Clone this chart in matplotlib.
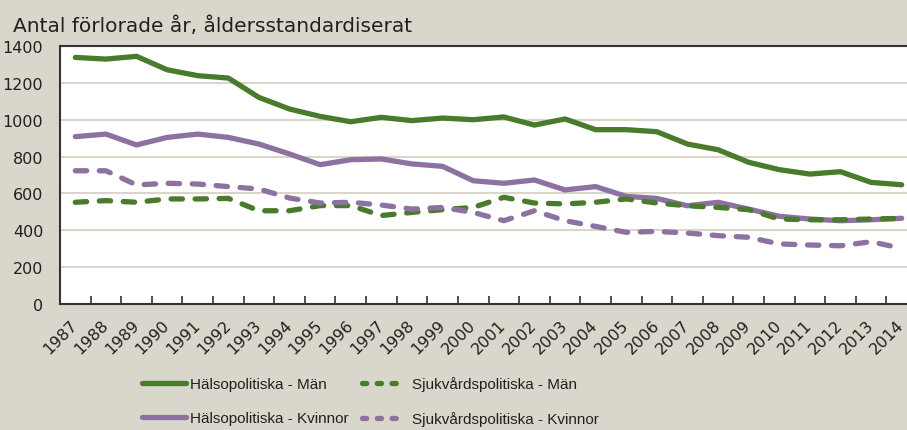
import numpy as np
import matplotlib
matplotlib.use("Agg")
import matplotlib.pyplot as plt
from matplotlib.ticker import FixedLocator
from matplotlib.lines import Line2D

# data
years = [str(y) for y in range(1987, 2015)]
halso_man = [1338, 1329, 1344, 1271, 1239, 1226, 1121, 1058, 1018, 989, 1013, 995, 1009,
             1000, 1015, 971, 1004, 946, 946, 935, 868, 837, 769, 729, 705, 718, 660, 647]
halso_kvinnor = [908, 922, 863, 904, 922, 904, 868, 814, 756, 783, 787, 760, 747,
                 669, 655, 673, 619, 637, 584, 573, 533, 552, 515, 476, 461, 452, 457, 465]
sjukv_man = [552, 561, 552, 570, 570, 573, 506, 506, 534, 534, 480, 497, 512,
             524, 579, 548, 543, 552, 570, 548, 533, 524, 512, 461, 457, 457, 461, 465]
sjukv_kvinnor = [723, 723, 646, 655, 651, 637, 624, 575, 548, 552, 537, 515, 524,
                 497, 452, 506, 452, 421, 389, 394, 385, 371, 362, 326, 320, 316, 338, 302]

GREEN = '#4a7a2b'
PURPLE = '#8d71a0'
BG = '#d9d7cb'
TXT = '#231f20'

fig = plt.figure(figsize=(9.07, 4.31), dpi=100, facecolor=BG)
ax = fig.add_axes([60/907, 126/431, 857/907, 258/431])
ax.set_facecolor('white')

x = np.arange(len(years))
lw = 3.8
dash = (0, (2.15, 2.4))
ax.plot(x, halso_man, color=GREEN, lw=lw, solid_capstyle='round', zorder=3)
ax.plot(x, halso_kvinnor, color=PURPLE, lw=lw, solid_capstyle='round', zorder=3)
ax.plot(x, sjukv_man, color=GREEN, lw=lw, ls=dash, dash_capstyle='round', zorder=3)
ax.plot(x, sjukv_kvinnor, color=PURPLE, lw=lw, ls=dash, dash_capstyle='round', zorder=3)

ax.set_xlim(-0.5, len(years) - 0.5)
ax.set_ylim(0, 1400)
ax.set_yticks(range(0, 1401, 200))
ax.grid(axis='y', color=BG, lw=1.5, zorder=0)
ax.set_axisbelow(True)

ax.set_xticks(x)
ax.set_xticklabels(years, rotation=45, ha='right', va='center', rotation_mode='anchor')
ax.xaxis.set_minor_locator(FixedLocator(np.arange(0.5, len(years) - 1, 1)))
ax.tick_params(axis='x', which='major', length=0, pad=13, labelsize=11.5, labelcolor=TXT)
ax.tick_params(axis='x', which='minor', direction='in', length=6, width=1.2, color='#333333')
ax.tick_params(axis='y', length=0, pad=12, labelsize=11.5, labelcolor=TXT)

for s in ax.spines.values():
    s.set_color('#333333')
    s.set_linewidth(1.5)

fig.text(13/907, 1 - 32/431, 'Antal förlorade år, åldersstandardiserat',
         fontsize=14.5, color=TXT, va='baseline', ha='left')

# legend: two columns placed separately, shorter dashes as in the reference
short_dash = (0, (0.8, 2.0))
legprops = {'family': ['Liberation Sans', 'DejaVu Sans'], 'size': 11}
h_left = [Line2D([], [], color=GREEN, lw=lw, solid_capstyle='round'),
          Line2D([], [], color=PURPLE, lw=lw, solid_capstyle='round')]
h_right = [Line2D([], [], color=GREEN, lw=lw, ls=short_dash, dash_capstyle='round'),
           Line2D([], [], color=PURPLE, lw=lw, ls=short_dash, dash_capstyle='round')]
fig.legend(h_left, ['Hälsopolitiska - Män', 'Hälsopolitiska - Kvinnor'],
           loc='center left', bbox_to_anchor=(128/907, 1 - 402/431), frameon=False,
           prop=legprops, handlelength=2.9, handletextpad=0.25, labelspacing=1.3,
           labelcolor=TXT)
fig.legend(h_right, ['Sjukvårdspolitiska - Män', 'Sjukvårdspolitiska - Kvinnor'],
           loc='center left', bbox_to_anchor=(348/907, 1 - 402/431), frameon=False,
           prop=legprops, handlelength=2.6, handletextpad=0.7, labelspacing=1.3,
           labelcolor=TXT)

fig.savefig('out.png', dpi=100, facecolor=BG)
